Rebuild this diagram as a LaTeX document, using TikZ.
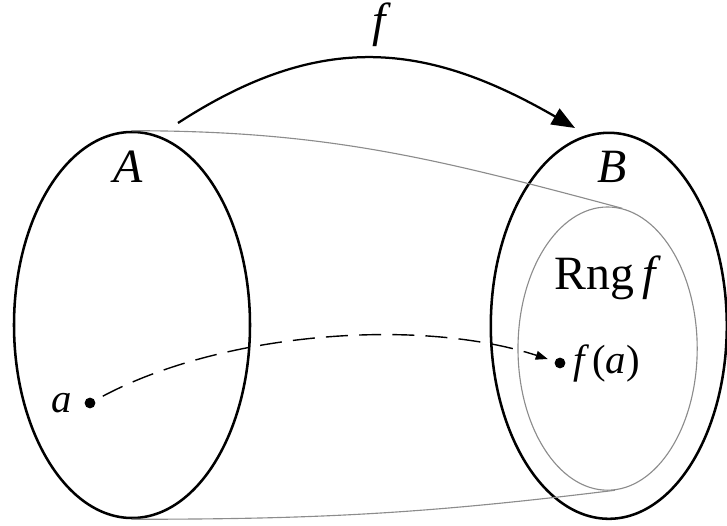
\documentclass[tikz,border=0pt]{standalone}
\usepackage{fontspec}
\setmainfont{Liberation Serif}
\usetikzlibrary{arrows.meta, positioning, shapes.geometric}
\tikzset{
	setbox/.style={ellipse, draw=black, line width=1.8pt, inner sep=0pt, minimum width=5.9cm, minimum height=9.65cm},
	rngbox/.style={ellipse, draw=black!45, line width=0.8pt, inner sep=0pt, minimum width=4.48cm, minimum height=7.08cm},
	elem/.style={circle, fill=black, inner sep=0pt, minimum size=0.27cm},
	biglabel/.style={font=\fontsize{34}{40}\selectfont\itshape, inner sep=0pt},
	smalllabel/.style={font=\fontsize{29}{34}\selectfont\itshape, inner sep=0pt},
	guide/.style={draw=black!45, line width=0.8pt},
	maparrow/.style={-{Triangle[length=0.58cm, width=0.45cm]}, line width=1.6pt},
	dasharrow/.style={-{Triangle[length=0.3cm, width=0.22cm]}, line width=1pt, dash pattern=on 0.55cm off 0.28cm, shorten <=0.22cm, shorten >=0.18cm},
}

\begin{document}
\begin{tikzpicture}
	\useasboundingbox (0,0) rectangle (18.175,13.125);
	\node[setbox] (A) at (3.3,5.0) {};
	\node[setbox] (B) at (15.22,4.98) {};
	\node[rngbox] (rng) at (15.19,4.41) {};
	\draw[guide] (A.north) to[out=0, in=165] (rng.84);
	\draw[guide] (A.south) to[out=0, in=187] (rng.-87);
	\node[biglabel] (Alab) at (3.2,8.95) {A};
	\node[biglabel] (Blab) at (15.3,8.95) {B};
	\node[biglabel] (rnglab) at (15.125,6.175) {{\upshape Rng}\,f};
	% the map f
	\coordinate (fstart) at (4.45,10.05);
	\coordinate (fend) at (14.375,9.925);
	\draw[maparrow] (fstart) to[out=33, in=150, looseness=1.1] (fend);
	\node[biglabel] (flab) at (9.48,12.5) {f};
	% an element and its image
	\node[elem] (adot) at (2.25,3.05) {};
	\node[elem] (fadot) at (14.0,4.05) {};
	\node[smalllabel, left=0.3cm of adot] (alab) {a};
	\node[smalllabel, right=0.2cm of fadot] (falab) {f\,{\upshape(}a{\upshape)}};
	\draw[dasharrow] (adot) to[out=28, in=162, looseness=0.8] (fadot);
\end{tikzpicture}
\end{document}
